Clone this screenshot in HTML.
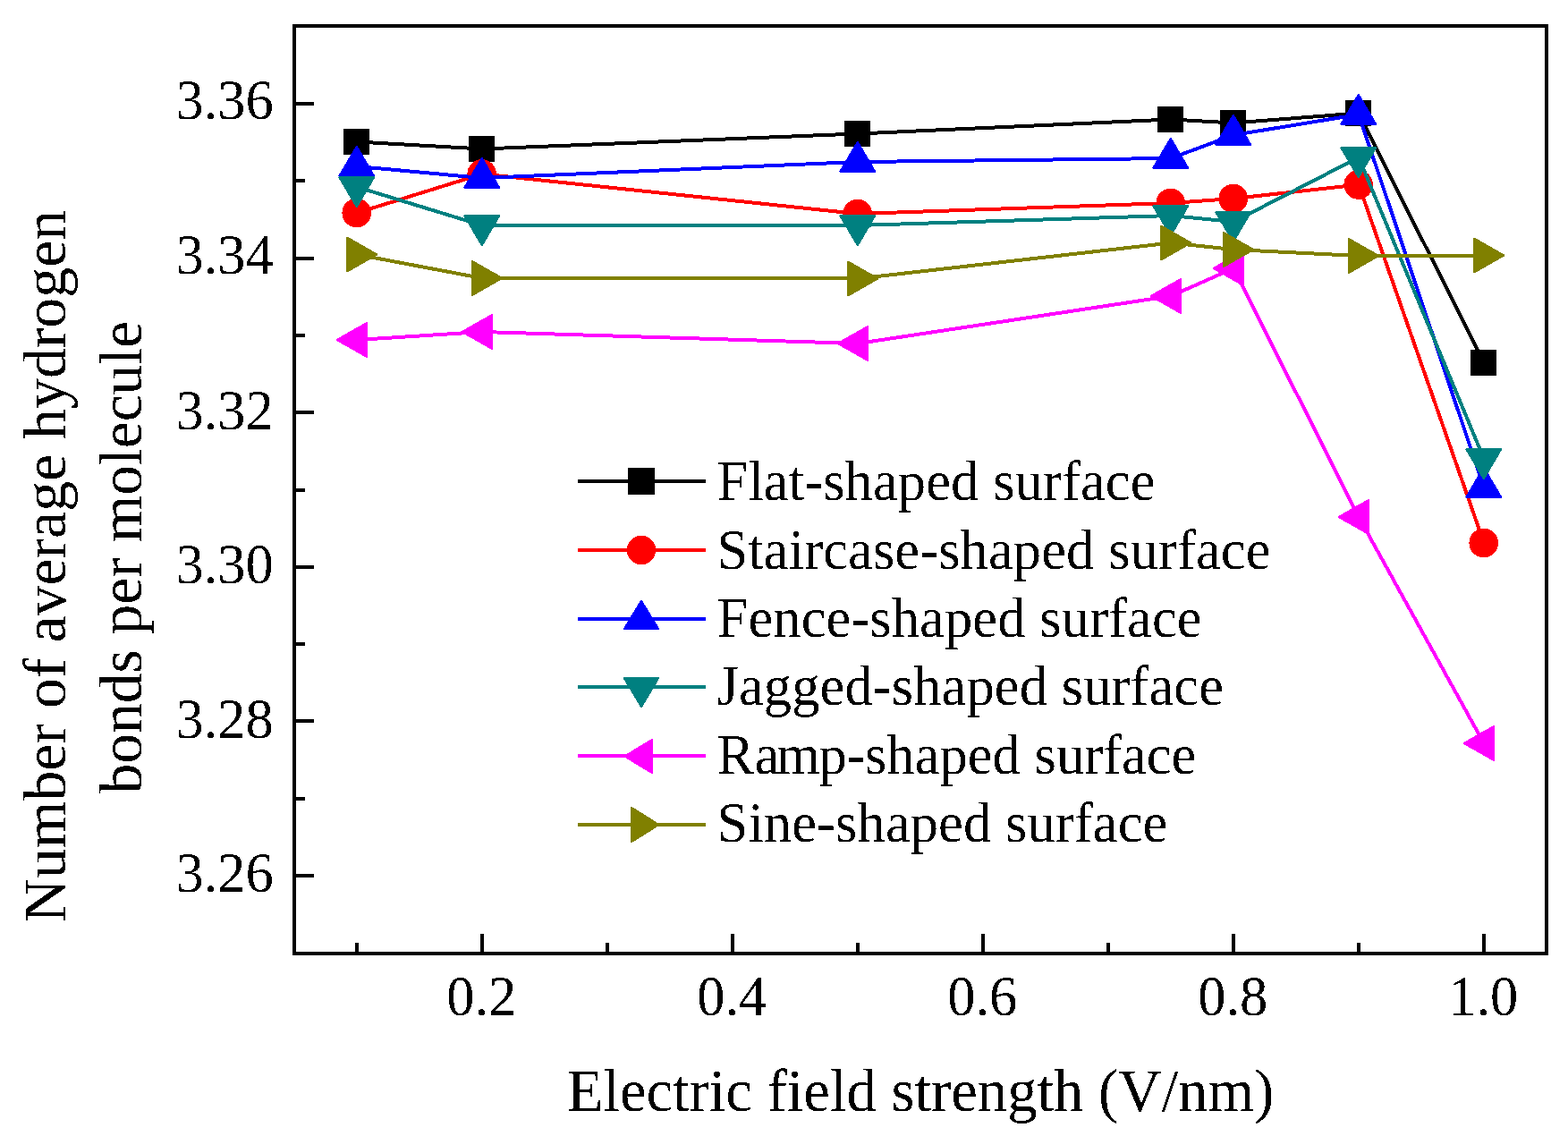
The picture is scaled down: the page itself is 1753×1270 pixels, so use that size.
<!DOCTYPE html>
<html lang="en"><head><meta charset="utf-8"><title>Number of average hydrogen bonds per molecule vs electric field strength</title>
<style>html,body{margin:0;padding:0;background:#fff}body{width:1753px;height:1270px;overflow:hidden}svg{display:block}text{font-family:'Liberation Serif', 'Times New Roman', serif;fill:#000}</style>
</head><body>
<svg width="1753" height="1270" viewBox="0 0 1753 1270">
<rect width="1753" height="1270" fill="#fff"/>
<defs><filter id="bw" x="0" y="0" width="100%" height="100%" filterUnits="userSpaceOnUse" color-interpolation-filters="sRGB"><feComponentTransfer><feFuncA type="discrete" tableValues="0 1"/></feComponentTransfer></filter></defs>
<g filter="url(#bw)">
<g stroke="#000" stroke-width="4" fill="none" shape-rendering="crispEdges">
<line x1="329" y1="116" x2="351" y2="116"/>
<line x1="329" y1="289" x2="351" y2="289"/>
<line x1="329" y1="461" x2="351" y2="461"/>
<line x1="329" y1="634" x2="351" y2="634"/>
<line x1="329" y1="806" x2="351" y2="806"/>
<line x1="329" y1="979" x2="351" y2="979"/>
<line x1="329" y1="202" x2="341" y2="202"/>
<line x1="329" y1="375" x2="341" y2="375"/>
<line x1="329" y1="548" x2="341" y2="548"/>
<line x1="329" y1="720" x2="341" y2="720"/>
<line x1="329" y1="893" x2="341" y2="893"/>
<line x1="539" y1="1066" x2="539" y2="1044"/>
<line x1="819" y1="1066" x2="819" y2="1044"/>
<line x1="1099" y1="1066" x2="1099" y2="1044"/>
<line x1="1379" y1="1066" x2="1379" y2="1044"/>
<line x1="1659" y1="1066" x2="1659" y2="1044"/>
<line x1="399" y1="1066" x2="399" y2="1054"/>
<line x1="679" y1="1066" x2="679" y2="1054"/>
<line x1="959" y1="1066" x2="959" y2="1054"/>
<line x1="1239" y1="1066" x2="1239" y2="1054"/>
<line x1="1519" y1="1066" x2="1519" y2="1054"/>
<rect x="329" y="29" width="1400" height="1037"/>
</g>
<g font-size="62.5" text-anchor="end">
<text x="305.8" y="132.5">3.36</text>
<text x="305.8" y="305.5">3.34</text>
<text x="305.8" y="479.5">3.32</text>
<text x="305.8" y="651.5">3.30</text>
<text x="305.8" y="824.5">3.28</text>
<text x="305.8" y="996.5">3.26</text>
</g>
<g font-size="62.5" text-anchor="middle">
<text x="538.2" y="1135">0.2</text>
<text x="818.2" y="1135">0.4</text>
<text x="1098.2" y="1135">0.6</text>
<text x="1378.2" y="1135">0.8</text>
<text x="1658.2" y="1135">1.0</text>
</g>
<text x="1029" y="1242" font-size="66.7" text-anchor="middle">Electric field strength (V/nm)</text>
<g text-anchor="middle">
<text font-size="67.8" transform="translate(73,633) rotate(-90)">Number of average hydrogen</text>
<text font-size="67.5" transform="translate(158,623.3) rotate(-90)">bonds per molecule</text>
</g>
<g shape-rendering="crispEdges">
<polyline points="399,158.5 539,166.5 959,149.5 1309,133.5 1379,137.5 1519,126.5 1659,405.5" fill="none" stroke="#000000" stroke-width="4" stroke-linejoin="round"/>
<rect x="384" y="144" width="29" height="29" fill="#000000"/>
<rect x="524" y="152" width="29" height="29" fill="#000000"/>
<rect x="944" y="135" width="29" height="29" fill="#000000"/>
<rect x="1294" y="119" width="29" height="29" fill="#000000"/>
<rect x="1364" y="123" width="29" height="29" fill="#000000"/>
<rect x="1504" y="112" width="29" height="29" fill="#000000"/>
<rect x="1644" y="391" width="29" height="29" fill="#000000"/>
<polyline points="399,238 539,194.5 959,239 1309,227 1379,222 1519,206.5 1659,607" fill="none" stroke="#ff0000" stroke-width="4" stroke-linejoin="round"/>
<circle cx="398.7" cy="238" r="16.3" fill="#ff0000"/>
<circle cx="538.7" cy="194.5" r="16.3" fill="#ff0000"/>
<circle cx="958.7" cy="239" r="16.3" fill="#ff0000"/>
<circle cx="1308.7" cy="227" r="16.3" fill="#ff0000"/>
<circle cx="1378.7" cy="222" r="16.3" fill="#ff0000"/>
<circle cx="1518.7" cy="206.5" r="16.3" fill="#ff0000"/>
<circle cx="1658.7" cy="607" r="16.3" fill="#ff0000"/>
<polyline points="399,186 539,199 959,181 1309,177 1379,151 1519,128 1659,545" fill="none" stroke="#0000ff" stroke-width="4" stroke-linejoin="round"/>
<polygon points="398.8,164.2 417.8,196.7 379.7,196.7" fill="#0000ff" stroke="#0000ff" stroke-width="2.6" stroke-linejoin="round"/>
<polygon points="538.8,177.2 557.8,209.7 519.7,209.7" fill="#0000ff" stroke="#0000ff" stroke-width="2.6" stroke-linejoin="round"/>
<polygon points="958.8,159.2 977.8,191.7 939.7,191.7" fill="#0000ff" stroke="#0000ff" stroke-width="2.6" stroke-linejoin="round"/>
<polygon points="1308.8,155.2 1327.8,187.7 1289.7,187.7" fill="#0000ff" stroke="#0000ff" stroke-width="2.6" stroke-linejoin="round"/>
<polygon points="1378.8,129.2 1397.8,161.7 1359.7,161.7" fill="#0000ff" stroke="#0000ff" stroke-width="2.6" stroke-linejoin="round"/>
<polygon points="1518.8,106.2 1537.8,138.7 1499.7,138.7" fill="#0000ff" stroke="#0000ff" stroke-width="2.6" stroke-linejoin="round"/>
<polygon points="1658.8,523.2 1677.8,555.7 1639.7,555.7" fill="#0000ff" stroke="#0000ff" stroke-width="2.6" stroke-linejoin="round"/>
<polyline points="399,209 539,252 959,252 1309,241 1379,248 1519,176 1659,513" fill="none" stroke="#008080" stroke-width="4" stroke-linejoin="round"/>
<polygon points="398.8,230.8 417.8,198.3 379.7,198.3" fill="#008080" stroke="#008080" stroke-width="2.6" stroke-linejoin="round"/>
<polygon points="538.8,273.8 557.8,241.3 519.7,241.3" fill="#008080" stroke="#008080" stroke-width="2.6" stroke-linejoin="round"/>
<polygon points="958.8,273.8 977.8,241.3 939.7,241.3" fill="#008080" stroke="#008080" stroke-width="2.6" stroke-linejoin="round"/>
<polygon points="1308.8,262.8 1327.8,230.3 1289.7,230.3" fill="#008080" stroke="#008080" stroke-width="2.6" stroke-linejoin="round"/>
<polygon points="1378.8,269.8 1397.8,237.3 1359.7,237.3" fill="#008080" stroke="#008080" stroke-width="2.6" stroke-linejoin="round"/>
<polygon points="1518.8,197.8 1537.8,165.3 1499.7,165.3" fill="#008080" stroke="#008080" stroke-width="2.6" stroke-linejoin="round"/>
<polygon points="1658.8,534.8 1677.8,502.3 1639.7,502.3" fill="#008080" stroke="#008080" stroke-width="2.6" stroke-linejoin="round"/>
<polyline points="399,380 539,371 959,384 1309,331 1379,300 1519,578 1659,831" fill="none" stroke="#ff00ff" stroke-width="4" stroke-linejoin="round"/>
<polygon points="377.2,380 409.7,361.5 409.7,398.5" fill="#ff00ff" stroke="#ff00ff" stroke-width="2.6" stroke-linejoin="round"/>
<polygon points="517.2,371 549.7,352.5 549.7,389.5" fill="#ff00ff" stroke="#ff00ff" stroke-width="2.6" stroke-linejoin="round"/>
<polygon points="937.2,384 969.7,365.5 969.7,402.5" fill="#ff00ff" stroke="#ff00ff" stroke-width="2.6" stroke-linejoin="round"/>
<polygon points="1287.2,331 1319.7,312.5 1319.7,349.5" fill="#ff00ff" stroke="#ff00ff" stroke-width="2.6" stroke-linejoin="round"/>
<polygon points="1357.2,300 1389.7,281.5 1389.7,318.5" fill="#ff00ff" stroke="#ff00ff" stroke-width="2.6" stroke-linejoin="round"/>
<polygon points="1497.2,578 1529.7,559.5 1529.7,596.5" fill="#ff00ff" stroke="#ff00ff" stroke-width="2.6" stroke-linejoin="round"/>
<polygon points="1637.2,831 1669.7,812.5 1669.7,849.5" fill="#ff00ff" stroke="#ff00ff" stroke-width="2.6" stroke-linejoin="round"/>
<polyline points="399,284.5 539,311 959,311.5 1309,271.5 1379,279 1519,286 1659,285.5" fill="none" stroke="#808000" stroke-width="4" stroke-linejoin="round"/>
<polygon points="420.8,284.5 388.3,266 388.3,303" fill="#808000" stroke="#808000" stroke-width="2.6" stroke-linejoin="round"/>
<polygon points="560.8,311 528.3,292.5 528.3,329.5" fill="#808000" stroke="#808000" stroke-width="2.6" stroke-linejoin="round"/>
<polygon points="980.8,311.5 948.3,293 948.3,330" fill="#808000" stroke="#808000" stroke-width="2.6" stroke-linejoin="round"/>
<polygon points="1330.8,271.5 1298.3,253 1298.3,290" fill="#808000" stroke="#808000" stroke-width="2.6" stroke-linejoin="round"/>
<polygon points="1400.8,279 1368.3,260.5 1368.3,297.5" fill="#808000" stroke="#808000" stroke-width="2.6" stroke-linejoin="round"/>
<polygon points="1540.8,286 1508.3,267.5 1508.3,304.5" fill="#808000" stroke="#808000" stroke-width="2.6" stroke-linejoin="round"/>
<polygon points="1680.8,285.5 1648.3,267 1648.3,304" fill="#808000" stroke="#808000" stroke-width="2.6" stroke-linejoin="round"/>
</g>
<g shape-rendering="crispEdges">
<line x1="646" y1="538" x2="789" y2="538" stroke="#000000" stroke-width="4"/>
<rect x="702" y="523" width="30" height="30" fill="#000000"/>
<line x1="646" y1="615" x2="789" y2="615" stroke="#ff0000" stroke-width="4"/>
<circle cx="717" cy="615" r="16.2" fill="#ff0000"/>
<line x1="646" y1="692" x2="789" y2="692" stroke="#0000ff" stroke-width="4"/>
<polygon points="717,672.3 735.7,702.7 698.3,702.7" fill="#0000ff" stroke="#0000ff" stroke-width="2.6" stroke-linejoin="round"/>
<line x1="646" y1="768" x2="789" y2="768" stroke="#008080" stroke-width="4"/>
<polygon points="717,789.7 735.7,758.3 698.3,758.3" fill="#008080" stroke="#008080" stroke-width="2.6" stroke-linejoin="round"/>
<line x1="646" y1="845" x2="789" y2="845" stroke="#ff00ff" stroke-width="4"/>
<polygon points="698.8,845.5 728.7,827.3 728.7,863.7" fill="#ff00ff" stroke="#ff00ff" stroke-width="2.6" stroke-linejoin="round"/>
<line x1="646" y1="922" x2="789" y2="922" stroke="#808000" stroke-width="4"/>
<polygon points="736,922 706.3,903.3 706.3,940.7" fill="#808000" stroke="#808000" stroke-width="2.6" stroke-linejoin="round"/>
</g>
<g font-size="62.5" letter-spacing="0.125">
<text x="801.5" y="559">Flat-shaped surface</text>
<text x="801.5" y="636">Staircase-shaped surface</text>
<text x="801.5" y="712">Fence-shaped surface</text>
<text x="801.5" y="788">Jagged-shaped surface</text>
<text x="801.5" y="865" dx="0 0.5 -3.3 -1.4 -0.5 -0.3" letter-spacing="0.06">Ramp-shaped surface</text>
<text x="801.5" y="941">Sine-shaped surface</text>
</g>
</g>
</svg></body></html>
